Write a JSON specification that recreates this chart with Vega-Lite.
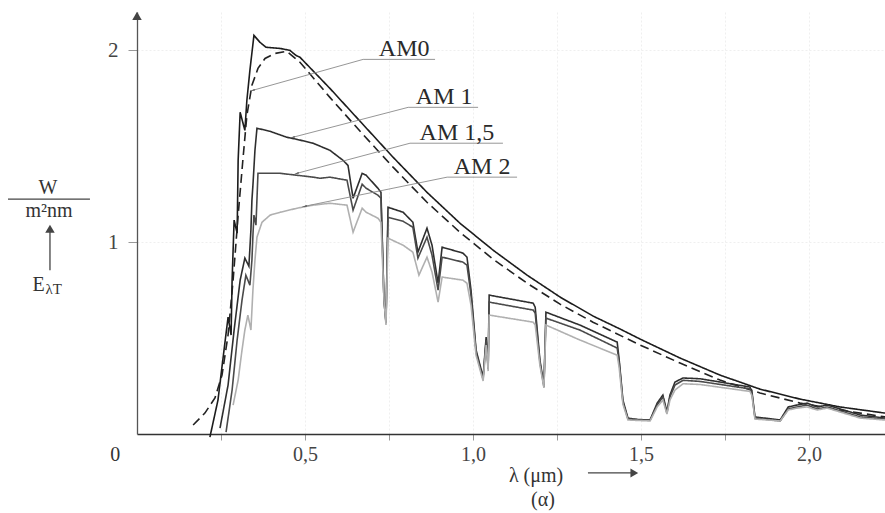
{
  "$schema": "https://vega.github.io/schema/vega-lite/v6.json",
  "autosize": {"type": "none"},
  "padding": {"left": 137, "top": 12, "right": 0, "bottom": 79},
  "width": 748,
  "height": 422,
  "background": "white",
  "config": {"view": {"stroke": null}, "font": "'Times New Roman', 'Liberation Serif', 'DejaVu Serif', serif"},
  "datasets": {
    "spectra": [
      {"s":"AM0","x":0.217,"y":-0.016},{"s":"AM0","x":0.241,"y":0.177},{"s":"AM0","x":0.259,"y":0.438},{"s":"AM0","x":0.271,"y":0.609},{"s":"AM0","x":0.280,"y":0.516},{"s":"AM0","x":0.283,"y":0.80},{"s":"AM0","x":0.289,"y":1.115},{"s":"AM0","x":0.298,"y":1.047},{"s":"AM0","x":0.301,"y":1.427},{"s":"AM0","x":0.307,"y":1.677},{"s":"AM0","x":0.321,"y":1.583},{"s":"AM0","x":0.327,"y":1.74},{"s":"AM0","x":0.336,"y":1.896},{"s":"AM0","x":0.348,"y":2.078},{"s":"AM0","x":0.366,"y":2.042},{"s":"AM0","x":0.384,"y":2.016},{"s":"AM0","x":0.426,"y":2.01},{"s":"AM0","x":0.455,"y":2.0},{"s":"AM0","x":0.473,"y":1.974},{"s":"AM0","x":0.485,"y":1.964},{"s":"AM0","x":0.574,"y":1.802},{"s":"AM0","x":0.664,"y":1.630},{"s":"AM0","x":0.762,"y":1.443},{"s":"AM0","x":0.863,"y":1.260},{"s":"AM0","x":0.961,"y":1.099},{"s":"AM0","x":1.060,"y":0.958},{"s":"AM0","x":1.161,"y":0.828},{"s":"AM0","x":1.259,"y":0.714},{"s":"AM0","x":1.357,"y":0.615},{"s":"AM0","x":1.438,"y":0.547},{"s":"AM0","x":1.497,"y":0.495},{"s":"AM0","x":1.616,"y":0.396},{"s":"AM0","x":1.735,"y":0.307},{"s":"AM0","x":1.854,"y":0.234},{"s":"AM0","x":1.973,"y":0.182},{"s":"AM0","x":2.092,"y":0.141},{"s":"AM0","x":2.226,"y":0.109},
      {"s":"BB","x":0.167,"y":0.047},{"s":"BB","x":0.202,"y":0.109},{"s":"BB","x":0.232,"y":0.188},{"s":"BB","x":0.253,"y":0.307},{"s":"BB","x":0.271,"y":0.516},{"s":"BB","x":0.286,"y":0.802},{"s":"BB","x":0.301,"y":1.141},{"s":"BB","x":0.315,"y":1.427},{"s":"BB","x":0.327,"y":1.661},{"s":"BB","x":0.342,"y":1.818},{"s":"BB","x":0.360,"y":1.906},{"s":"BB","x":0.381,"y":1.958},{"s":"BB","x":0.411,"y":1.984},{"s":"BB","x":0.446,"y":1.995},{"s":"BB","x":0.485,"y":1.938},{"s":"BB","x":0.574,"y":1.755},{"s":"BB","x":0.664,"y":1.578},{"s":"BB","x":0.762,"y":1.391},{"s":"BB","x":0.863,"y":1.208},{"s":"BB","x":0.961,"y":1.052},{"s":"BB","x":1.060,"y":0.911},{"s":"BB","x":1.161,"y":0.786},{"s":"BB","x":1.259,"y":0.677},{"s":"BB","x":1.357,"y":0.583},{"s":"BB","x":1.497,"y":0.464},{"s":"BB","x":1.616,"y":0.370},{"s":"BB","x":1.735,"y":0.281},{"s":"BB","x":1.854,"y":0.214},{"s":"BB","x":1.973,"y":0.161},{"s":"BB","x":2.092,"y":0.125},{"s":"BB","x":2.226,"y":0.089},
      {"s":"AM1","x":0.247,"y":0.031},{"s":"AM1","x":0.271,"y":0.255},{"s":"AM1","x":0.289,"y":0.542},{"s":"AM1","x":0.307,"y":0.802},{"s":"AM1","x":0.321,"y":0.917},{"s":"AM1","x":0.333,"y":0.875},{"s":"AM1","x":0.339,"y":1.063},{"s":"AM1","x":0.342,"y":1.219},{"s":"AM1","x":0.345,"y":1.297},{"s":"AM1","x":0.351,"y":1.479},{"s":"AM1","x":0.357,"y":1.594},{"s":"AM1","x":0.396,"y":1.578},{"s":"AM1","x":0.446,"y":1.547},{"s":"AM1","x":0.476,"y":1.536},{"s":"AM1","x":0.524,"y":1.516},{"s":"AM1","x":0.574,"y":1.479},{"s":"AM1","x":0.613,"y":1.427},{"s":"AM1","x":0.628,"y":1.40},{"s":"AM1","x":0.643,"y":1.229},{"s":"AM1","x":0.670,"y":1.359},{"s":"AM1","x":0.682,"y":1.349},{"s":"AM1","x":0.717,"y":1.281},{"s":"AM1","x":0.726,"y":1.26},{"s":"AM1","x":0.735,"y":0.698},{"s":"AM1","x":0.741,"y":0.583},{"s":"AM1","x":0.747,"y":1.182},{"s":"AM1","x":0.792,"y":1.156},{"s":"AM1","x":0.821,"y":1.104},{"s":"AM1","x":0.836,"y":0.948},{"s":"AM1","x":0.863,"y":1.073},{"s":"AM1","x":0.878,"y":0.984},{"s":"AM1","x":0.896,"y":0.786},{"s":"AM1","x":0.908,"y":0.974},{"s":"AM1","x":0.970,"y":0.943},{"s":"AM1","x":0.982,"y":0.922},{"s":"AM1","x":0.994,"y":0.75},{"s":"AM1","x":1.009,"y":0.438},{"s":"AM1","x":1.030,"y":0.297},{"s":"AM1","x":1.039,"y":0.505},{"s":"AM1","x":1.045,"y":0.349},{"s":"AM1","x":1.048,"y":0.724},{"s":"AM1","x":1.179,"y":0.682},{"s":"AM1","x":1.185,"y":0.661},{"s":"AM1","x":1.199,"y":0.385},{"s":"AM1","x":1.211,"y":0.255},{"s":"AM1","x":1.217,"y":0.635},{"s":"AM1","x":1.318,"y":0.568},{"s":"AM1","x":1.429,"y":0.479},{"s":"AM1","x":1.435,"y":0.385},{"s":"AM1","x":1.446,"y":0.177},{"s":"AM1","x":1.461,"y":0.083},{"s":"AM1","x":1.497,"y":0.073},{"s":"AM1","x":1.527,"y":0.073},{"s":"AM1","x":1.548,"y":0.161},{"s":"AM1","x":1.565,"y":0.203},{"s":"AM1","x":1.577,"y":0.115},{"s":"AM1","x":1.586,"y":0.203},{"s":"AM1","x":1.601,"y":0.271},{"s":"AM1","x":1.625,"y":0.292},{"s":"AM1","x":1.676,"y":0.288},{"s":"AM1","x":1.824,"y":0.245},{"s":"AM1","x":1.830,"y":0.222},{"s":"AM1","x":1.839,"y":0.089},{"s":"AM1","x":1.914,"y":0.073},{"s":"AM1","x":1.938,"y":0.141},{"s":"AM1","x":1.964,"y":0.151},{"s":"AM1","x":1.994,"y":0.161},{"s":"AM1","x":2.024,"y":0.141},{"s":"AM1","x":2.054,"y":0.151},{"s":"AM1","x":2.152,"y":0.099},{"s":"AM1","x":2.226,"y":0.083},
      {"s":"AM15","x":0.265,"y":0.01},{"s":"AM15","x":0.283,"y":0.229},{"s":"AM15","x":0.298,"y":0.49},{"s":"AM15","x":0.3125,"y":0.698},{"s":"AM15","x":0.324,"y":0.828},{"s":"AM15","x":0.336,"y":0.776},{"s":"AM15","x":0.342,"y":0.906},{"s":"AM15","x":0.345,"y":1.036},{"s":"AM15","x":0.348,"y":1.141},{"s":"AM15","x":0.354,"y":1.089},{"s":"AM15","x":0.360,"y":1.359},{"s":"AM15","x":0.426,"y":1.359},{"s":"AM15","x":0.476,"y":1.349},{"s":"AM15","x":0.524,"y":1.339},{"s":"AM15","x":0.545,"y":1.333},{"s":"AM15","x":0.574,"y":1.339},{"s":"AM15","x":0.625,"y":1.323},{"s":"AM15","x":0.643,"y":1.167},{"s":"AM15","x":0.670,"y":1.302},{"s":"AM15","x":0.682,"y":1.281},{"s":"AM15","x":0.717,"y":1.245},{"s":"AM15","x":0.726,"y":1.229},{"s":"AM15","x":0.735,"y":0.698},{"s":"AM15","x":0.741,"y":0.578},{"s":"AM15","x":0.747,"y":1.130},{"s":"AM15","x":0.792,"y":1.109},{"s":"AM15","x":0.821,"y":1.078},{"s":"AM15","x":0.836,"y":0.917},{"s":"AM15","x":0.863,"y":1.026},{"s":"AM15","x":0.878,"y":0.932},{"s":"AM15","x":0.896,"y":0.75},{"s":"AM15","x":0.908,"y":0.922},{"s":"AM15","x":0.970,"y":0.896},{"s":"AM15","x":0.982,"y":0.880},{"s":"AM15","x":0.994,"y":0.724},{"s":"AM15","x":1.009,"y":0.427},{"s":"AM15","x":1.030,"y":0.286},{"s":"AM15","x":1.039,"y":0.490},{"s":"AM15","x":1.045,"y":0.339},{"s":"AM15","x":1.048,"y":0.6875},{"s":"AM15","x":1.179,"y":0.646},{"s":"AM15","x":1.185,"y":0.630},{"s":"AM15","x":1.199,"y":0.375},{"s":"AM15","x":1.211,"y":0.245},{"s":"AM15","x":1.217,"y":0.604},{"s":"AM15","x":1.318,"y":0.542},{"s":"AM15","x":1.429,"y":0.448},{"s":"AM15","x":1.435,"y":0.375},{"s":"AM15","x":1.446,"y":0.167},{"s":"AM15","x":1.461,"y":0.078},{"s":"AM15","x":1.527,"y":0.073},{"s":"AM15","x":1.548,"y":0.151},{"s":"AM15","x":1.565,"y":0.193},{"s":"AM15","x":1.577,"y":0.109},{"s":"AM15","x":1.586,"y":0.193},{"s":"AM15","x":1.601,"y":0.255},{"s":"AM15","x":1.625,"y":0.280},{"s":"AM15","x":1.676,"y":0.274},{"s":"AM15","x":1.824,"y":0.235},{"s":"AM15","x":1.830,"y":0.212},{"s":"AM15","x":1.839,"y":0.083},{"s":"AM15","x":1.914,"y":0.068},{"s":"AM15","x":1.938,"y":0.130},{"s":"AM15","x":1.964,"y":0.141},{"s":"AM15","x":1.994,"y":0.151},{"s":"AM15","x":2.024,"y":0.130},{"s":"AM15","x":2.054,"y":0.141},{"s":"AM15","x":2.152,"y":0.089},{"s":"AM15","x":2.226,"y":0.078},
      {"s":"AM2","x":0.286,"y":0.151},{"s":"AM2","x":0.301,"y":0.281},{"s":"AM2","x":0.3125,"y":0.4375},{"s":"AM2","x":0.321,"y":0.542},{"s":"AM2","x":0.330,"y":0.620},{"s":"AM2","x":0.339,"y":0.542},{"s":"AM2","x":0.345,"y":0.75},{"s":"AM2","x":0.351,"y":0.906},{"s":"AM2","x":0.357,"y":1.026},{"s":"AM2","x":0.372,"y":1.104},{"s":"AM2","x":0.396,"y":1.141},{"s":"AM2","x":0.426,"y":1.156},{"s":"AM2","x":0.476,"y":1.177},{"s":"AM2","x":0.524,"y":1.193},{"s":"AM2","x":0.574,"y":1.203},{"s":"AM2","x":0.625,"y":1.193},{"s":"AM2","x":0.643,"y":1.052},{"s":"AM2","x":0.670,"y":1.177},{"s":"AM2","x":0.682,"y":1.156},{"s":"AM2","x":0.717,"y":1.125},{"s":"AM2","x":0.726,"y":1.104},{"s":"AM2","x":0.735,"y":0.698},{"s":"AM2","x":0.741,"y":0.568},{"s":"AM2","x":0.747,"y":1.021},{"s":"AM2","x":0.792,"y":0.984},{"s":"AM2","x":0.821,"y":0.948},{"s":"AM2","x":0.839,"y":0.828},{"s":"AM2","x":0.863,"y":0.922},{"s":"AM2","x":0.878,"y":0.844},{"s":"AM2","x":0.896,"y":0.6875},{"s":"AM2","x":0.908,"y":0.818},{"s":"AM2","x":0.970,"y":0.802},{"s":"AM2","x":0.982,"y":0.786},{"s":"AM2","x":0.994,"y":0.672},{"s":"AM2","x":1.009,"y":0.411},{"s":"AM2","x":1.030,"y":0.276},{"s":"AM2","x":1.039,"y":0.464},{"s":"AM2","x":1.045,"y":0.328},{"s":"AM2","x":1.048,"y":0.620},{"s":"AM2","x":1.179,"y":0.583},{"s":"AM2","x":1.185,"y":0.568},{"s":"AM2","x":1.199,"y":0.359},{"s":"AM2","x":1.211,"y":0.240},{"s":"AM2","x":1.217,"y":0.568},{"s":"AM2","x":1.318,"y":0.490},{"s":"AM2","x":1.429,"y":0.411},{"s":"AM2","x":1.435,"y":0.344},{"s":"AM2","x":1.446,"y":0.156},{"s":"AM2","x":1.461,"y":0.073},{"s":"AM2","x":1.527,"y":0.068},{"s":"AM2","x":1.548,"y":0.141},{"s":"AM2","x":1.565,"y":0.177},{"s":"AM2","x":1.577,"y":0.104},{"s":"AM2","x":1.586,"y":0.177},{"s":"AM2","x":1.601,"y":0.229},{"s":"AM2","x":1.625,"y":0.262},{"s":"AM2","x":1.676,"y":0.258},{"s":"AM2","x":1.824,"y":0.222},{"s":"AM2","x":1.830,"y":0.200},{"s":"AM2","x":1.839,"y":0.078},{"s":"AM2","x":1.914,"y":0.068},{"s":"AM2","x":1.938,"y":0.125},{"s":"AM2","x":1.964,"y":0.135},{"s":"AM2","x":1.994,"y":0.141},{"s":"AM2","x":2.024,"y":0.125},{"s":"AM2","x":2.054,"y":0.135},{"s":"AM2","x":2.152,"y":0.083},{"s":"AM2","x":2.226,"y":0.073}
    ],
    "leaders": [
      {"x":0.673,"y":1.953,"x2":0.345,"y2":1.792},{"x":0.673,"y":1.953,"x2":0.887,"y2":1.953},
      {"x":0.807,"y":1.703,"x2":0.464,"y2":1.547},{"x":0.807,"y":1.703,"x2":1.015,"y2":1.703},
      {"x":0.8125,"y":1.516,"x2":0.476,"y2":1.359},{"x":0.8125,"y":1.516,"x2":1.089,"y2":1.516},
      {"x":0.923,"y":1.339,"x2":0.5,"y2":1.1875},{"x":0.923,"y":1.339,"x2":1.131,"y2":1.339}
    ],
    "tips": [
      {"x":0.345,"y":1.792},{"x":0.464,"y":1.547},{"x":0.476,"y":1.359},{"x":0.5,"y":1.1875}
    ],
    "labels": [
      {"t":"AM0","x":0.795,"y":1.969},{"t":"AM 1","x":0.914,"y":1.719},{"t":"AM 1,5","x":0.952,"y":1.531},{"t":"AM 2","x":1.027,"y":1.354}
    ],
    "axisrules": [
      {"x":-0.384,"y":1.224,"x2":-0.140,"y2":1.224},
      {"x":-0.259,"y":0.854,"x2":-0.259,"y2":1.07},
      {"x":1.342,"y":-0.203,"x2":1.475,"y2":-0.203}
    ],
    "notes": [
      {"t":"W","x":-0.265,"y":1.285,"k":"big"},
      {"t":"m²nm","x":-0.262,"y":1.160,"k":"big"},
      {"t":"E","x":-0.293,"y":0.776,"k":"big"},
      {"t":"λT","x":-0.272,"y":0.758,"k":"sub"},
      {"t":"λ (μm)","x":1.1875,"y":-0.219,"k":"big"},
      {"t":"(α)","x":1.208,"y":-0.344,"k":"big"},
      {"t":"0","x":-0.065,"y":-0.109,"k":"big"}
    ],
    "heads": [
      {"x":0,"y":2.18,"d":"up"},
      {"x":-0.259,"y":1.07,"d":"up"},
      {"x":1.48,"y":-0.203,"d":"right"}
    ]
  },
  "layer": [
    {
      "data": {"name": "spectra"},
      "mark": {"type": "line", "interpolate": "linear"},
      "encoding": {
        "x": {"field": "x", "type": "quantitative",
              "scale": {"domain": [0, 2.226], "nice": false, "zero": false},
              "axis": {"title": null, "values": [0.25,0.5,0.75,1.0,1.25,1.5,1.75,2.0],
                       "labelExpr": "datum.value % 0.5 === 0 ? replace(format(datum.value, '.1f'), '.', ',') : ''",
                       "labelFont": "'Times New Roman', 'Liberation Serif', serif", "labelFontSize": 20, "labelColor": "#444",
                       "labelPadding": 4, "tickSize": 6, "tickColor": "#999",
                       "domainColor": "#333", "domainWidth": 1.4,
                       "grid": true, "gridColor": "#efefef", "gridDash": [2, 2]}},
        "y": {"field": "y", "type": "quantitative",
              "scale": {"domain": [0, 2.2], "nice": false},
              "axis": {"title": null, "values": [1, 2], "format": "d",
                       "labelFont": "'Times New Roman', 'Liberation Serif', serif", "labelFontSize": 21, "labelColor": "#444",
                       "labelPadding": 10, "tickSize": 9, "tickColor": "#999",
                       "domainColor": "#555", "domainWidth": 1.3,
                       "grid": true, "gridColor": "#efefef", "gridDash": [2, 2]}},
        "color": {"field": "s", "type": "nominal", "legend": null,
                  "scale": {"domain": ["AM0","BB","AM1","AM15","AM2"],
                            "range": ["#1c1c1c","#222222","#2e2e2e","#4a4a4a","#b0b0b0"]}},
        "strokeDash": {"field": "s", "type": "nominal", "legend": null,
                       "scale": {"domain": ["AM0","BB","AM1","AM15","AM2"],
                                 "range": [[1,0],[9,5],[1,0],[1,0],[1,0]]}},
        "strokeWidth": {"field": "s", "type": "nominal", "legend": null,
                        "scale": {"domain": ["AM0","BB","AM1","AM15","AM2"],
                                  "range": [1.6,1.6,1.4,1.3,1.1]}}
      }
    },
    {
      "data": {"name": "leaders"},
      "mark": {"type": "rule", "color": "#8a8a8a", "strokeWidth": 0.9},
      "encoding": {
        "x": {"field": "x", "type": "quantitative"},
        "y": {"field": "y", "type": "quantitative"},
        "x2": {"field": "x2"},
        "y2": {"field": "y2"}
      }
    },
    {
      "data": {"name": "tips"},
      "mark": {"type": "point", "shape": "wedge", "angle": 254, "filled": true, "color": "#555", "size": 45, "opacity": 1},
      "encoding": {
        "x": {"field": "x", "type": "quantitative"},
        "y": {"field": "y", "type": "quantitative"}
      }
    },
    {
      "data": {"name": "labels"},
      "mark": {"type": "text", "font": "'Times New Roman', 'Liberation Serif', serif", "fontSize": 24, "color": "#2a2a2a", "align": "center", "baseline": "alphabetic"},
      "encoding": {
        "x": {"field": "x", "type": "quantitative"},
        "y": {"field": "y", "type": "quantitative"},
        "text": {"field": "t"}
      }
    },
    {
      "data": {"name": "axisrules"},
      "mark": {"type": "rule", "color": "#444", "strokeWidth": 1.3},
      "encoding": {
        "x": {"field": "x", "type": "quantitative"},
        "y": {"field": "y", "type": "quantitative"},
        "x2": {"field": "x2"},
        "y2": {"field": "y2"}
      }
    },
    {
      "data": {"name": "heads"},
      "transform": [{"filter": "datum.d === 'up'"}],
      "mark": {"type": "point", "shape": "triangle-up", "filled": true, "color": "#444", "size": 90, "opacity": 1},
      "encoding": {
        "x": {"field": "x", "type": "quantitative"},
        "y": {"field": "y", "type": "quantitative"}
      }
    },
    {
      "data": {"name": "heads"},
      "transform": [{"filter": "datum.d === 'right'"}],
      "mark": {"type": "point", "shape": "triangle-right", "filled": true, "color": "#444", "size": 80, "opacity": 1},
      "encoding": {
        "x": {"field": "x", "type": "quantitative"},
        "y": {"field": "y", "type": "quantitative"}
      }
    },
    {
      "data": {"name": "notes"},
      "transform": [{"filter": "datum.k === 'big'"}],
      "mark": {"type": "text", "font": "'Times New Roman', 'Liberation Serif', serif", "fontSize": 20, "color": "#333", "align": "center", "baseline": "middle"},
      "encoding": {
        "x": {"field": "x", "type": "quantitative"},
        "y": {"field": "y", "type": "quantitative"},
        "text": {"field": "t"}
      }
    },
    {
      "data": {"name": "notes"},
      "transform": [{"filter": "datum.k === 'sub'"}],
      "mark": {"type": "text", "font": "'Times New Roman', 'Liberation Serif', serif", "fontSize": 15, "color": "#333", "align": "left", "baseline": "middle"},
      "encoding": {
        "x": {"field": "x", "type": "quantitative"},
        "y": {"field": "y", "type": "quantitative"},
        "text": {"field": "t"}
      }
    }
  ]
}
